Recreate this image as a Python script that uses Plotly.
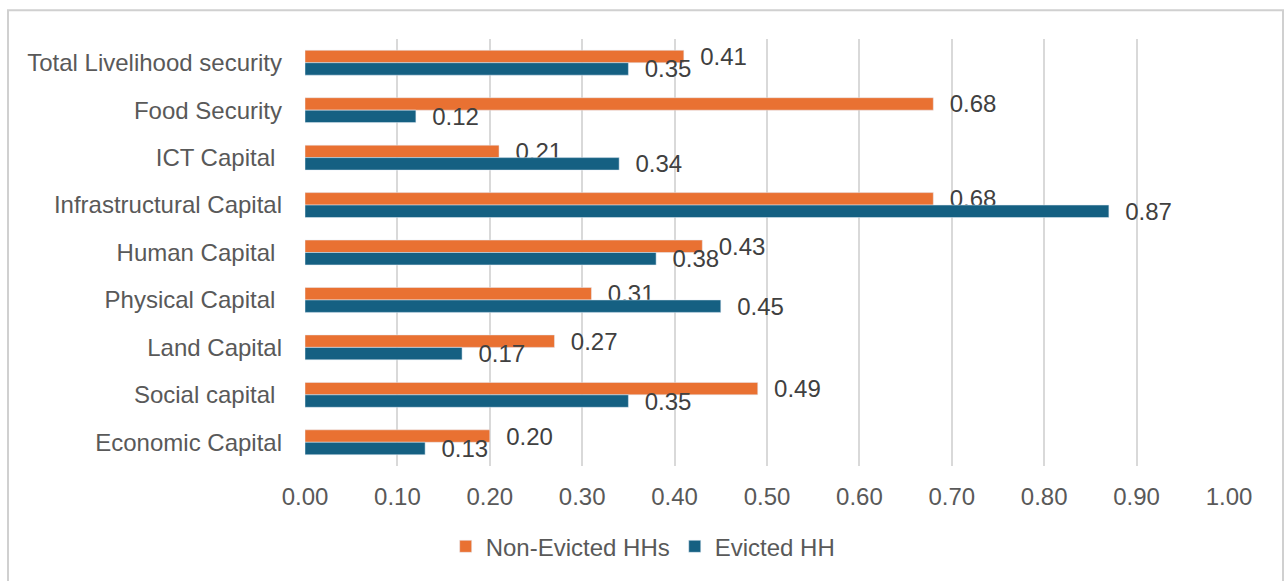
import plotly.graph_objects as go

categories = [
    "Total Livelihood security",
    "Food Security",
    "ICT Capital\u00a0",
    "Infrastructural Capital",
    "Human Capital\u00a0",
    "Physical Capital\u00a0",
    "Land Capital",
    "Social capital\u00a0",
    "Economic Capital",
]
non_evicted = [0.41, 0.68, 0.21, 0.68, 0.43, 0.31, 0.27, 0.49, 0.20]
evicted = [0.35, 0.12, 0.34, 0.87, 0.38, 0.45, 0.17, 0.35, 0.13]
x_ticks = [0.0, 0.1, 0.2, 0.3, 0.4, 0.5, 0.6, 0.7, 0.8, 0.9, 1.0]

FONT = "Liberation Sans, Arial, sans-serif"
FS = 24

fig = go.Figure()
fig.add_trace(go.Bar(
    y=categories, x=non_evicted, orientation="h", name="Non-Evicted HHs",
    marker=dict(color="#E97132"),
    texttemplate="\u00a0\u00a0%{x:.2f}", textposition="outside",
    textfont=dict(family=FONT, size=FS, color="#404040"),
    constraintext="none", cliponaxis=False,
))
fig.add_trace(go.Bar(
    y=categories, x=evicted, orientation="h", name="Evicted HH",
    marker=dict(color="#156082"),
    texttemplate="\u00a0\u00a0%{x:.2f}", textposition="outside",
    textfont=dict(family=FONT, size=FS, color="#404040"),
    constraintext="none", cliponaxis=False,
))

fig.update_layout(
    width=1287, height=581,
    margin=dict(l=305, r=58, t=39, b=113),
    paper_bgcolor="white", plot_bgcolor="white",
    barmode="group", bargap=0.475, bargroupgap=0,
    font=dict(family=FONT, size=FS, color="#595959"),
    showlegend=True,
    legend=dict(orientation="h", x=0.366, xanchor="center", y=-0.189, yanchor="middle",
                font=dict(family=FONT, size=FS, color="#595959"), itemwidth=30),
    xaxis=dict(range=[0, 1.0], tickvals=x_ticks, tickformat=".2f",
               showgrid=True, gridcolor="#D9D9D9", gridwidth=2,
               zeroline=False, showline=False, ticks="",
               ticklabelstandoff=14,
               tickfont=dict(family=FONT, size=FS, color="#595959")),
    yaxis=dict(autorange="reversed", showgrid=False, zeroline=False, showline=False,
               ticks="", ticklabelstandoff=22,
               tickfont=dict(family=FONT, size=FS, color="#595959")),
    shapes=[dict(type="rect", xref="paper", yref="paper",
                 x0=(8 - 305) / 924, x1=(1283 - 305) / 924,
                 y0=-0.3, y1=1 + (39 - 10) / 429,
                 line=dict(color="#D0D0D0", width=2), fillcolor="rgba(0,0,0,0)",
                 layer="below")],
)

fig.write_html("out.html")
